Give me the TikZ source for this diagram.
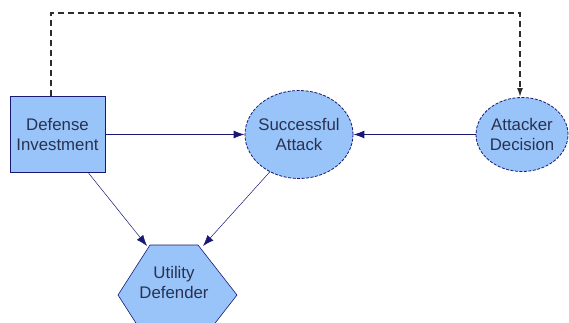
\documentclass[tikz,border=0pt]{standalone}
\usepackage{fontspec}
\setmainfont{Liberation Sans}
\usetikzlibrary{arrows.meta,shapes.geometric,calc}
\definecolor{fillblue}{RGB}{153,196,250}
\definecolor{navy}{RGB}{25,25,115}
\definecolor{txt}{RGB}{40,50,80}
\definecolor{dashgray}{RGB}{45,45,45}
\begin{document}
\begin{tikzpicture}[x=1pt,y=-1pt,
  lbl/.style={font=\fontsize{16.8}{20}\selectfont, text=txt, align=center, inner sep=0pt},
  box/.style={lbl, draw=navy, line width=1pt, fill=fillblue, minimum width=95pt, minimum height=76pt},
  ell/.style={lbl, ellipse, inner sep=-8pt, draw=navy, dashed, dash pattern=on 3pt off 1.5pt, line width=0.8pt, fill=fillblue},
  hexshape/.style={draw=navy, line width=0.6pt, fill=fillblue},
  arr/.style={draw=navy, line width=1pt, -{Latex[length=11pt,width=8pt]}},
  thinarr/.style={draw=navy, line width=0.5pt, -{Latex[length=11pt,width=8pt]}},
  dashline/.style={draw=dashgray, line width=1.6pt, dash pattern=on 6pt off 4pt, -{Latex[length=9pt,width=6pt]}}
]
\useasboundingbox[fill=white] (0,0) rectangle (569,322);
% utility hexagon
\coordinate (hTL) at (150,245);
\coordinate (hTR) at (198,245);
\coordinate (hR) at (237,295);
\coordinate (hBR) at (198,345);
\coordinate (hBL) at (150,345);
\coordinate (hL) at (118,295);
\draw[hexshape] (hTL) -- (hTR) -- (hR) -- (hBR) -- (hBL) -- (hL) -- cycle;
\node[lbl] (ud) at (174,282) {Utility\\Defender};
% nodes
\node[box] (di) at (57.5,134.5) {Defense\\Investment};
\node[ell, minimum width=108pt, minimum height=88pt] (sa) at (299,134.5) {Successful\\Attack};
\node[ell, minimum width=92pt, minimum height=74pt] (ad) at (522,134.5) {Attacker\\Decision};
% dashed information arc
\coordinate (c1) at (51,13);
\coordinate (c2) at (520,13);
\draw[dashline] (c1 |- di.north) -- (c1) -- (c2) -- (c2 |- ad.north);
% arrows
\draw[arr] (di.east) -- (sa.west);
\draw[arr] (ad.west) -- (sa.east);
\coordinate (dstart) at ($(di.south east)+(-17,0)$);
\coordinate (uleft) at ($(hTL)+(-3,1)$);
\coordinate (uright) at ($(hTR)+(5,1)$);
\draw[thinarr] (dstart) -- (uleft);
\draw[thinarr] (sa.232) -- (uright);
\end{tikzpicture}
\end{document}
